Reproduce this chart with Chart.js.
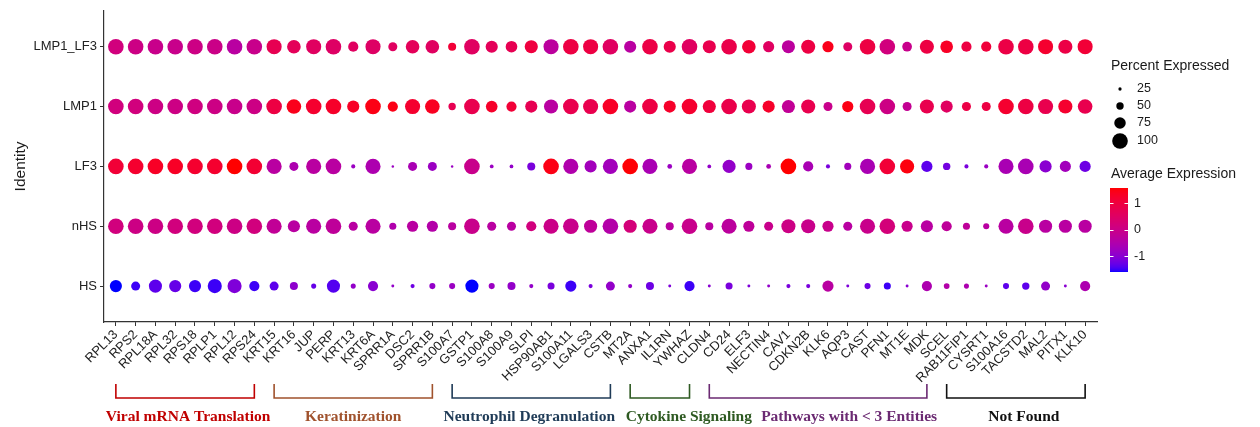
<!DOCTYPE html>
<html>
<head>
<meta charset="utf-8">
<script src="https://cdn.jsdelivr.net/npm/chart.js@4.4.1/dist/chart.umd.min.js"></script>
<style>
  html, body { margin: 0; padding: 0; background: #fff; }
  #wrap { width: 1260px; height: 427px; }
</style>
</head>
<body>
<div id="wrap"><canvas id="dotPlot" width="1260" height="427"></canvas></div>
<script>
// genes along the x axis, identities bottom -> top
const genes = ['RPL13','RPS2','RPL18A','RPL32','RPS18','RPLP1','RPL12','RPS24',
  'KRT15','KRT16','JUP','PERP','KRT13','KRT6A','SPRR1A','DSC2','SPRR1B',
  'S100A7','GSTP1','S100A8','S100A9','SLPI','HSP90AB1','S100A11','LGALS3','CSTB',
  'MT2A','ANXA1','IL1RN','YWHAZ',
  'CLDN4','CD24','ELF3','NECTIN4','CAV1','CDKN2B','KLK6','AQP3','CAST','PFN1','MT1E','MDK',
  'SCEL','RAB11FIP1','CYSRT1','S100A16','TACSTD2','MAL2','PITX1','KLK10'];
const identities = ['HS', 'nHS', 'LF3', 'LMP1', 'LMP1_LF3'];

// percent expressed, one array per identity (gene order as above)
const pctHS = [79,60,85,79,79,91,91,67, 60,54,36,85,36,67,23,30,42, 42,85,42,54,30,48,73,30,60, 30,54,23,67,
  23,48,23,23,30,30,73,23,42,48,23,67, 40,36,23,42,50,60,23,67];
const pctNHS = [100,100,100,100,100,100,100,100, 97,79,97,100,60,97,48,73,73, 54,100,60,60,67,97,100,85,100, 85,97,54,100,
  54,97,73,60,91,91,73,60,97,100,73,79, 67,48,42,97,100,85,85,85];
const pctLF3 = [100,100,100,100,100,100,100,100, 97,60,97,100,30,97,20,60,60, 20,100,28,28,54,100,97,79,97, 100,97,34,97,
  28,85,48,34,100,67,30,48,97,100,91,73, 50,30,30,97,100,79,73,73];
const pctLMP1 = [100,100,100,100,100,100,100,100, 100,94,100,100,79,100,67,97,94, 50,100,76,67,79,91,100,97,100, 79,100,79,100,
  85,100,91,79,85,91,60,73,100,100,60,91, 79,60,60,100,100,97,91,94];
const pctLMP1LF3 = [100,100,100,100,100,100,100,100, 97,88,97,100,67,97,60,88,88, 54,100,79,76,85,97,100,97,100, 79,100,79,100,
  85,100,88,73,85,91,73,60,100,100,64,91, 82,67,67,100,100,97,91,97];

// average (scaled) expression, one array per identity
const expHS = [-1.6,-1.5,-1.35,-1.3,-1.5,-1.5,-1.1,-1.5, -1.35,-0.95,-1.3,-1.4,-0.9,-1.0,-0.9,-1.25,-0.9,
  -0.8,-1.6,-0.8,-0.9,-0.9,-1.15,-1.5,-1.15,-0.9, -0.9,-1.25,-1.1,-1.5,
  -1.0,-1.15,-1.1,-0.9,-1.15,-1.15,-0.35,-1.1,-1.25,-1.5,-1.0,-0.55, -0.45,-0.55,-0.8,-1.35,-1.35,-0.9,-1.0,-0.55];
const expNHS = [0.15,0.05,0.05,0.15,0.15,0.15,0.05,0.15, -0.2,-0.35,-0.35,-0.25,-0.35,-0.35,-0.5,-0.35,-0.45,
  -0.35,-0.05,-0.35,-0.35,0.15,0,-0.05,-0.25,-0.45, 0.2,-0.05,-0.35,-0.05,
  -0.35,-0.3,-0.25,-0.05,0.05,-0.05,-0.05,-0.35,-0.05,0.2,-0.05,-0.35, -0.25,-0.25,-0.35,-0.35,-0.05,-0.35,-0.35,-0.35];
const expLF3 = [1.1,1.2,1.3,1.3,1.2,1.2,1.57,1.15, -0.35,-0.55,-0.35,-0.35,-0.8,-0.55,-0.8,-0.6,-0.8,
  -0.8,-0.05,-0.8,-0.9,-1.15,1.45,-0.5,-0.7,-0.7, 1.55,-0.6,-0.8,-0.35,
  -0.9,-0.9,-0.8,-0.6,1.57,-0.6,-1.15,-0.7,-0.6,1.1,1.5,-1.35, -1.2,-1.15,-0.8,-0.6,-0.6,-1.0,-0.7,-1.25];
const expLMP1 = [0.15,0.15,0.05,0.05,0.1,0.05,-0.05,0.05, 0.95,1.4,1.2,1.25,1.3,1.45,1.45,1.2,1.35,
  0.75,0.8,1.25,1.1,0.75,-0.35,0.8,0.8,1.3, -0.35,0.95,1.25,1.2,
  1.05,0.85,0.8,1.25,-0.2,0.8,-0.05,1.45,0.75,0.05,-0.15,0.8, 0.55,0.9,0.95,1.2,0.95,0.8,1.2,0.8];
const expLMP1LF3 = [0.15,0.05,-0.05,-0.05,0.05,0,-0.35,-0.05, 0.75,0.65,0.55,0.5,0.55,0.5,0.55,0.65,0.55,
  1.1,0.55,0.65,0.75,1.0,-0.3,0.95,0.95,0.55, -0.35,0.9,0.85,0.55,
  0.8,0.85,1.1,0.55,-0.3,0.95,1.4,0.5,0.95,0.15,-0.05,0.95, 1.3,0.95,1.05,0.9,0.95,1.2,0.9,1.1];

const pctByIdentity = [pctHS, pctNHS, pctLF3, pctLMP1, pctLMP1LF3];
const expByIdentity = [expHS, expNHS, expLF3, expLMP1, expLMP1LF3];

// pathway groups under the axis
const groupNames = ['Viral mRNA Translation', 'Keratinization', 'Neutrophil Degranulation',
  'Cytokine Signaling', 'Pathways with < 3 Entities', 'Not Found'];
const groupFirst = ['RPL13', 'KRT15', 'S100A7', 'MT2A', 'CLDN4', 'SCEL'];
const groupLast = ['RPS24', 'SPRR1B', 'CSTB', 'YWHAZ', 'MDK', 'KLK10'];

// legend
const sizeBreaks = [25, 50, 75, 100];
const colorBreaks = [1, 0, -1];

// ---- styles ----
const groupColors = ['#c00000', '#a0522d', '#1f3b57', '#2e5a22', '#6b2a72', '#111111'];
const groupNudge = [3, 0, -2, 29, 31, 8];
const SANS = '"Liberation Sans", Arial, Helvetica, sans-serif';
const SERIF = '"Liberation Serif", "Times New Roman", serif';

const allExp = expByIdentity.flat();
const expMin = Math.min(...allExp);
const expMax = Math.max(...allExp);

function radiusFor(pct) {
  return Math.max(0.9, 7.8 * (pct - 5) / 95);
}

// ggplot-like gradient: blue -> red interpolated in CIELAB
function toLin(c) { c /= 255; return c <= 0.04045 ? c / 12.92 : Math.pow((c + 0.055) / 1.055, 2.4); }
function toByte(c) {
  c = Math.max(0, Math.min(1, c));
  return Math.round(255 * (c <= 0.0031308 ? 12.92 * c : 1.055 * Math.pow(c, 1 / 2.4) - 0.055));
}
function rgbToLab(rgb) {
  const [r, g, b] = rgb.map(toLin);
  const X = (0.4124 * r + 0.3576 * g + 0.1805 * b) / 0.95047;
  const Y = 0.2126 * r + 0.7152 * g + 0.0722 * b;
  const Z = (0.0193 * r + 0.1192 * g + 0.9505 * b) / 1.08883;
  const f = t => t > 0.008856 ? Math.cbrt(t) : 7.787 * t + 16 / 116;
  return [116 * f(Y) - 16, 500 * (f(X) - f(Y)), 200 * (f(Y) - f(Z))];
}
function labToRgb([L, a, bb]) {
  const fy = (L + 16) / 116, fx = fy + a / 500, fz = fy - bb / 200;
  const inv = t => (t * t * t > 0.008856 ? t * t * t : (t - 16 / 116) / 7.787);
  const X = 0.95047 * inv(fx), Y = inv(fy), Z = 1.08883 * inv(fz);
  const r = 3.2406 * X - 1.5372 * Y - 0.4986 * Z;
  const g = -0.9689 * X + 1.8758 * Y + 0.0415 * Z;
  const b = 0.0557 * X - 0.2040 * Y + 1.0570 * Z;
  return `rgb(${toByte(r)},${toByte(g)},${toByte(b)})`;
}
const labLow = rgbToLab([0, 0, 255]);
const labHigh = rgbToLab([255, 0, 0]);
function colorFor(v) {
  const t = Math.max(0, Math.min(1, (v - expMin) / (expMax - expMin)));
  return labToRgb(labLow.map((lo, k) => lo + t * (labHigh[k] - lo)));
}

const datasets = identities.map((id, row) => ({
  label: id,
  data: genes.map((g, i) => ({ x: i, y: row })),
  pointRadius: ctx => radiusFor(pctByIdentity[row][ctx.dataIndex]),
  pointHoverRadius: ctx => radiusFor(pctByIdentity[row][ctx.dataIndex]),
  pointBackgroundColor: ctx => colorFor(expByIdentity[row][ctx.dataIndex]),
  pointBorderWidth: 0
}));

const extras = {
  id: 'extras',
  afterDraw(chart) {
    const c = chart.ctx;
    const xs = chart.scales.x;
    c.save();

    // pathway brackets + labels
    groupNames.forEach((name, k) => {
      const x1 = xs.getPixelForValue(genes.indexOf(groupFirst[k]));
      const x2 = xs.getPixelForValue(genes.indexOf(groupLast[k]));
      c.strokeStyle = groupColors[k];
      c.lineWidth = 1.6;
      c.beginPath();
      c.moveTo(x1, 384); c.lineTo(x1, 398); c.lineTo(x2, 398); c.lineTo(x2, 384);
      c.stroke();
      c.fillStyle = groupColors[k];
      c.font = `bold 15.5px ${SERIF}`;
      c.textAlign = 'center';
      c.textBaseline = 'middle';
      c.fillText(name, (x1 + x2) / 2 + groupNudge[k], 417);
    });

    // size legend
    c.fillStyle = '#1a1a1a';
    c.textAlign = 'left';
    c.textBaseline = 'middle';
    c.font = `14px ${SANS}`;
    c.fillText('Percent Expressed', 1111, 66);
    const sizeY = [89, 106, 123, 141];
    c.font = `12.5px ${SANS}`;
    sizeBreaks.forEach((p, k) => {
      c.fillStyle = '#000';
      c.beginPath();
      c.arc(1120, sizeY[k], radiusFor(p), 0, Math.PI * 2);
      c.fill();
      c.fillStyle = '#1a1a1a';
      c.fillText(String(p), 1137, sizeY[k]);
    });

    // colour legend
    c.font = `14px ${SANS}`;
    c.fillText('Average Expression', 1111, 174);
    const barTop = 188, barBot = 272, barL = 1110, barW = 18;
    const vy = v => barBot - (v - expMin) / (expMax - expMin) * (barBot - barTop);
    for (let y = barTop; y < barBot; y++) {
      c.fillStyle = colorFor(expMin + (barBot - y - 0.5) / (barBot - barTop) * (expMax - expMin));
      c.fillRect(barL, y, barW, 1);
    }
    c.strokeStyle = '#fff';
    c.lineWidth = 1;
    c.font = `12.5px ${SANS}`;
    colorBreaks.forEach(v => {
      const y = Math.round(vy(v)) + 0.5;
      c.beginPath();
      c.moveTo(barL, y); c.lineTo(barL + 3.5, y);
      c.moveTo(barL + barW - 3.5, y); c.lineTo(barL + barW, y);
      c.stroke();
      c.fillStyle = '#1a1a1a';
      c.fillText(String(v), 1134, vy(v));
    });
    c.restore();
  }
};

new Chart(document.getElementById('dotPlot'), {
  type: 'scatter',
  data: { datasets },
  options: {
    responsive: false,
    animation: false,
    events: [],
    layout: { padding: { top: 8, right: 163, left: 0, bottom: 0 } },
    plugins: { legend: { display: false }, tooltip: { enabled: false } },
    scales: {
      x: {
        type: 'linear', min: -0.6, max: genes.length - 0.4,
        afterBuildTicks: s => { s.ticks = genes.map((_, i) => ({ value: i })); },
        afterFit: s => { s.height = 105; },
        ticks: {
          callback: v => genes[v], autoSkip: false, minRotation: 45, maxRotation: 45,
          color: '#222', padding: 1, font: { family: SANS, size: 13 }
        },
        grid: { drawOnChartArea: false, drawTicks: true, tickLength: 4, color: '#333', lineWidth: 1 },
        border: { display: true, color: '#333', width: 1.2 }
      },
      y: {
        type: 'linear', min: -0.6, max: identities.length - 0.4,
        afterBuildTicks: s => { s.ticks = identities.map((_, i) => ({ value: i })); },
        afterFit: s => { s.width = 104; },
        ticks: { callback: v => identities[v], color: '#222', padding: 3, font: { family: SANS, size: 13 } },
        grid: { drawOnChartArea: false, drawTicks: true, tickLength: 4, color: '#333', lineWidth: 1 },
        border: { display: true, color: '#333', width: 1.2 },
        title: { display: true, text: 'Identity', color: '#1a1a1a', font: { family: SANS, size: 15.5 }, padding: { top: 11, bottom: 0 } }
      }
    }
  },
  plugins: [extras]
});
</script>
</body>
</html>
